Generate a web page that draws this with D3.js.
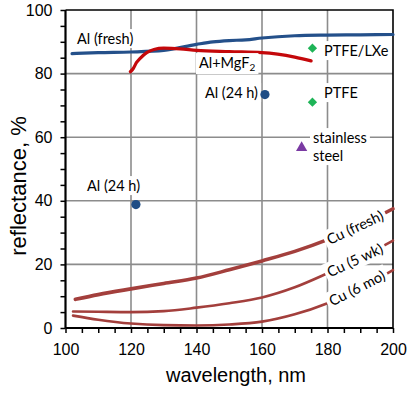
<!DOCTYPE html>
<html><head>
<meta charset="utf-8">
<script src="https://cdnjs.cloudflare.com/ajax/libs/d3/7.8.5/d3.min.js"></script>
<style>
  body { margin: 0; background: #fff; }
  svg { display: block; }
  .tick text { font-family: "Liberation Sans", Arial, sans-serif; font-size: 16px; fill: #000; }
  .lbl { font-family: Lato, "Open Sans", sans-serif; font-size: 14.5px; fill: #000; }
</style>
</head>
<body>
<svg id="chart" width="415" height="395"></svg>
<script>
// reflectance (%) vs wavelength (nm)
const alFreshWl = [102, 110, 120, 130, 140, 145, 150, 155, 160, 170, 180, 190, 200];
const alFreshR  = [86.3, 86.6, 86.8, 87.3, 89.2, 90.0, 90.4, 90.6, 91.2, 91.9, 92.1, 92.2, 92.3];

const alMgWl = [119.8, 120.7, 121.7, 122.8, 124.8, 127, 130, 135, 140, 150, 160, 170, 175];
const alMgR  = [80.6, 81.6, 83.5, 84.8, 86.6, 87.6, 88.0, 87.8, 87.3, 86.9, 86.6, 85.2, 84.0];

const cuWl     = [103, 110, 120, 130, 140, 150, 160, 170, 180, 190, 200];
const cuFreshR = [9.0, 10.5, 12.3, 14.0, 15.7, 18.3, 21.1, 24.1, 27.8, 32.3, 37.5];
const cuLowWl  = [102.3, 110, 120, 130, 140, 150, 160, 170, 180, 190, 200];
const cu5wkR   = [5.2, 5.1, 5.0, 5.3, 6.4, 7.8, 9.6, 12.8, 17.2, 22.0, 27.5];
const cu6moR   = [3.9, 2.6, 1.4, 0.9, 0.8, 1.1, 2.0, 4.3, 7.8, 12.5, 18.2];

const al24Wl = [121.5, 160.9];
const al24R  = [38.8, 73.4];
const ptfeWl = [175.4, 175.4];
const ptfeR  = [88.0, 71.0];
const steelWl = [172.1];
const steelR  = [56.7];

const xTicks = [100, 120, 140, 160, 180, 200];
const yTicks = [0, 20, 40, 60, 80, 100];

const svg = d3.select("#chart");
const L = 65.5, R = 393, T = 10, B = 328;

const x = d3.scaleLinear().domain([100, 200]).range([L, R]);
const y = d3.scaleLinear().domain([0, 100]).range([B, T]);

// grid
const grid = svg.append("g").attr("stroke", "#8c8c8c").attr("stroke-width", 1.6);
[120, 140, 160, 180].forEach(function(v) {
  grid.append("line").attr("x1", x(v)).attr("x2", x(v)).attr("y1", T).attr("y2", B);
});
[20, 40, 60, 80].forEach(function(v) {
  grid.append("line").attr("x1", L).attr("x2", R).attr("y1", y(v)).attr("y2", y(v));
});

// frame top/right
svg.append("path")
  .attr("d", "M" + L + "," + T + "H" + R + "V" + B)
  .attr("fill", "none").attr("stroke", "#000").attr("stroke-width", 1.6);

function line(wl, r) {
  return d3.line().curve(d3.curveMonotoneX)
    .x(function(d) { return x(d); })
    .y(function(d, i) { return y(r[i]); })(wl);
}

function drawLine(wl, r, color, w) {
  svg.append("path").attr("d", line(wl, r))
    .attr("fill", "none").attr("stroke", color).attr("stroke-width", w)
    .attr("stroke-linecap", "round");
}

const cuColor = "#a33f3c";
drawLine(cuWl, cuFreshR, cuColor, 3.6);
drawLine(cuLowWl, cu5wkR, cuColor, 2.6);
drawLine(cuLowWl, cu6moR, cuColor, 2.6);
drawLine(alFreshWl, alFreshR, "#24508a", 3.2);
drawLine(alMgWl, alMgR, "#c4080b", 3.2);

// label with white box behind (lines: array of strings or [text, subscript])
function label(lines, px, py, anchor, rot) {
  const g = svg.append("g").attr("transform", "translate(" + px + "," + py + ")" + (rot ? " rotate(" + rot + ")" : ""));
  const rect = g.append("rect").attr("fill", "#fff");
  const t = g.append("text").attr("class", "lbl").attr("text-anchor", anchor);
  lines.forEach(function(s, i) {
    const ts = t.append("tspan").attr("x", 0).attr("y", i * 18).attr("dy", "0.35em");
    if (Array.isArray(s)) {
      ts.text(s[0]);
      t.append("tspan").attr("font-size", "10px").attr("dy", "0.3em").text(s[1]);
    } else {
      ts.text(s);
    }
  });
  const bb = t.node().getBBox();
  rect.attr("x", bb.x - 3).attr("y", bb.y - 1).attr("width", bb.width + 6).attr("height", bb.height + 2);
  return g;
}

// Cu labels, placed on their curves
const cuLabelWl = [188.4, 188.4, 189];
const cuLabelR  = [31.6, 21.3, 12.5];
const cuLabelRot = [-25, -25, -27];
["Cu (fresh)", "Cu (5 wk)", "Cu (6 mo)"].forEach(function(s, i) {
  label([s], x(cuLabelWl[i]), y(cuLabelR[i]), "middle", cuLabelRot[i]);
});

label(["Al (fresh)"], 77, 39, "start");
label([["Al+MgF", "2"]], 199, 63, "start");
label(["Al (24 h)"], 258, 93, "end");
label(["Al (24 h)"], 87, 186, "start");
label(["PTFE/LXe"], 324, 51, "start");
label(["PTFE"], 324, 93, "start");
label(["stainless", "steel"], 313, 138, "start");

// markers
svg.selectAll(".al24").data(al24Wl).enter().append("circle")
  .attr("cx", function(d) { return x(d); })
  .attr("cy", function(d, i) { return y(al24R[i]); })
  .attr("r", 4.6).attr("fill", "#1f4d85");

svg.selectAll(".ptfe").data(ptfeWl).enter().append("path")
  .attr("d", d3.symbol().type(d3.symbolDiamond2).size(55))
  .attr("transform", function(d, i) { return "translate(" + x(d) + "," + y(ptfeR[i]) + ")"; })
  .attr("fill", "#1eb457");

svg.selectAll(".steel").data(steelWl).enter().append("path")
  .attr("d", d3.symbol().type(d3.symbolTriangle).size(55))
  .attr("transform", function(d, i) { return "translate(" + x(d) + "," + y(steelR[i]) + ")"; })
  .attr("fill", "#7a3aa3");

// axes
const xAxis = d3.axisBottom(x).tickValues(d3.range(100, 201, 5)).tickSize(5).tickPadding(11)
  .tickFormat(function(d) { return xTicks.indexOf(d) >= 0 ? d : ""; });
const yAxis = d3.axisLeft(y).tickValues(d3.range(0, 101, 5)).tickSize(5).tickPadding(8)
  .tickFormat(function(d) { return yTicks.indexOf(d) >= 0 ? d : ""; });

const gx = svg.append("g").attr("transform", "translate(0," + B + ")").call(xAxis);
const gy = svg.append("g").attr("transform", "translate(" + L + ",0)").call(yAxis);
[gx, gy].forEach(function(g) {
  g.select(".domain").attr("stroke", "#000").attr("stroke-width", 2.2).attr("d",
    g === gx ? "M" + L + ",0H" + R : "M0," + B + "V" + T);
  g.selectAll(".tick line").attr("stroke", "#000").attr("stroke-width", 1.5);
});

svg.append("text").attr("x", 236).attr("y", 382)
  .attr("text-anchor", "middle")
  .style("font-family", "Liberation Sans, Arial, sans-serif").style("font-size", "20px")
  .text("wavelength, nm");
svg.append("text").attr("transform", "translate(26,186) rotate(-90)")
  .attr("text-anchor", "middle")
  .style("font-family", "Liberation Sans, Arial, sans-serif").style("font-size", "22px")
  .text("reflectance, %");
</script>
</body></html>
